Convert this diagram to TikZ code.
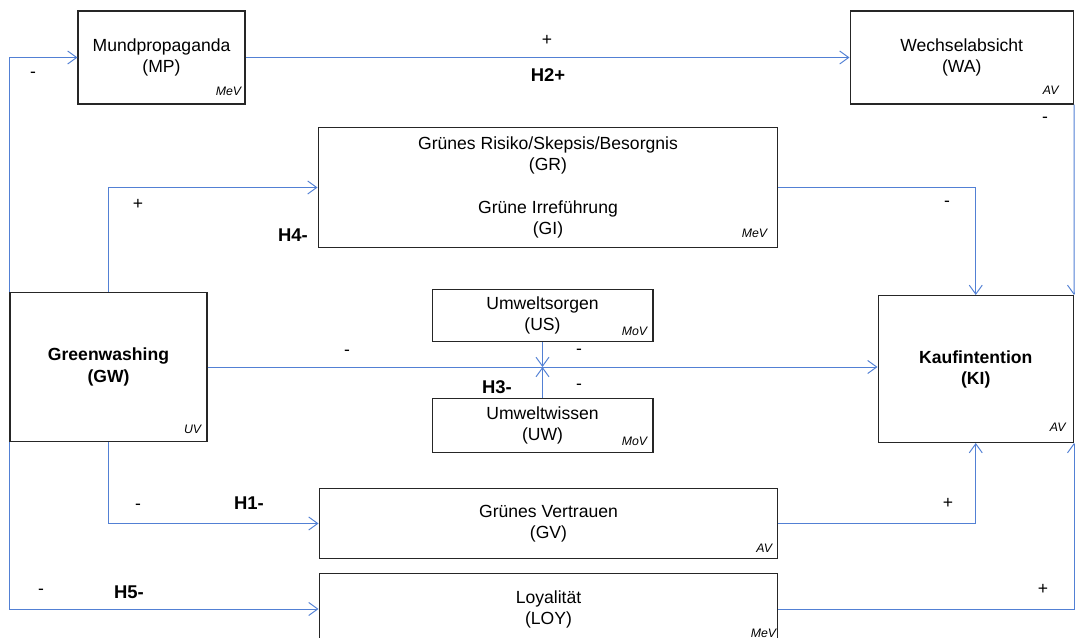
\documentclass[tikz,border=0pt]{standalone}
\usepackage{fontspec}
\setmainfont{Liberation Sans}
\usetikzlibrary{arrows.meta}
\definecolor{pfeil}{RGB}{82,128,212}
\tikzset{
  box/.style={draw=black!85, line width=0.6pt, align=center, inner sep=0pt,
    font=\fontsize{10}{12}\selectfont},
  typ/.style={anchor=south east, inner sep=0pt, font=\fontsize{7}{8}\selectfont\itshape},
  conn/.style={draw=pfeil, line width=0.55pt, -{Straight Barb[length=1.8mm,width=2.6mm]}},
  sgn/.style={inner sep=0pt, font=\fontsize{10}{12}\selectfont},
  hyp/.style={inner sep=0pt, font=\fontsize{10.5}{12}\selectfont\bfseries},
}
\begin{document}
\begin{tikzpicture}[x=0.02cm, y=-0.02cm]
  \useasboundingbox (0,0) rectangle (1075,638);
  \node[box, minimum width=3.34cm, minimum height=1.86cm] (mp) at (161.5,57.5) {Mundpropaganda\\(MP)};
  \node[box, minimum width=4.47cm, minimum height=1.86cm] (wa) at (961.75,57.5) {Wechselabsicht\\(WA)};
  \node[box, minimum width=9.2cm, minimum height=2.4cm] (gr) at (548,187.5)
    {Grünes Risiko/Skepsis/Besorgnis\\(GR)\\[12pt]Grüne Irreführung\\(GI)};
  \node[box, minimum width=3.94cm, minimum height=2.98cm] (gw) at (108.5,367) {\bfseries Greenwashing\\\bfseries (GW)};
  \node[box, minimum width=4.42cm, minimum height=1.04cm] (us) at (542.5,315.5) {Umweltsorgen\\(US)};
  \node[box, minimum width=4.42cm, minimum height=1.08cm] (uw) at (542.5,425.5) {Umweltwissen\\(UW)};
  \node[box, minimum width=3.91cm, minimum height=2.94cm] (ki) at (975.75,369) {\bfseries Kaufintention\\\bfseries (KI)};
  \node[box, minimum width=9.18cm, minimum height=1.4cm] (gv) at (548.5,523.5) {Grünes Vertrauen\\(GV)};
  \node[box, minimum width=9.18cm, minimum height=1.42cm] (loy) at (548.5,609) {Loyalität\\(LOY)};

  \node[typ] (mpt) at ([shift={(-4,-9)}]mp.south east) {MeV};
  \node[typ] (wat) at ([shift={(-15,-10)}]wa.south east) {AV};
  \node[typ] (grt) at ([shift={(-11,-10)}]gr.south east) {MeV};
  \node[typ] (gwt) at ([shift={(-6,-8)}]gw.south east) {UV};
  \node[typ] (ust) at ([shift={(-6,-6)}]us.south east) {MoV};
  \node[typ] (uwt) at ([shift={(-6,-7)}]uw.south east) {MoV};
  \node[typ] (kit) at ([shift={(-8,-11)}]ki.south east) {AV};
  \node[typ] (gvt) at ([shift={(-6,-6)}]gv.south east) {AV};
  \node[typ] (loyt) at ([shift={(-2,-7)}]loy.south east) {MeV};

  \coordinate (mod) at (us.south |- gw.east);
  \draw[conn] (gw.north west) |- (mp);
  \draw[conn] (gw.south west) |- (loy);
  \draw[conn] (mp) -- (wa);
  \draw[conn] (wa.south east) -- (ki.north east);
  \draw[conn] (gw.north) |- (gr);
  \draw[conn] (gr) -| (ki);
  \draw[conn] (gw.east) -- (gw.east -| ki.west);
  \draw[conn] (us) -- (mod);
  \draw[conn] (uw) -- (mod);
  \draw[conn] (gw.south) |- (gv);
  \draw[conn] (gv) -| (ki);
  \draw[conn] (loy) -| (ki.south east);

  \node[sgn] (s1) at (33,75) {-};
  \node[sgn] (s2) at (547,40) {+};
  \node[hyp] (h2) at (548,75) {H2+};
  \node[sgn] (s3) at (1045,120) {-};
  \node[sgn] (s4) at (138,204) {+};
  \node[hyp] (h4) at (293,235) {H4-};
  \node[sgn] (s5) at (947,204) {-};
  \node[sgn] (s6) at (347,353) {-};
  \node[sgn] (s7) at (579,352) {-};
  \node[hyp] (h3) at (497,387) {H3-};
  \node[sgn] (s8) at (579,387) {-};
  \node[sgn] (s9) at (138,507) {-};
  \node[hyp] (h1) at (249,503) {H1-};
  \node[sgn] (s10) at (41,592) {-};
  \node[hyp] (h5) at (129,592) {H5-};
  \node[sgn] (s11) at (948,503) {+};
  \node[sgn] (s12) at (1043,589) {+};
\end{tikzpicture}
\end{document}
